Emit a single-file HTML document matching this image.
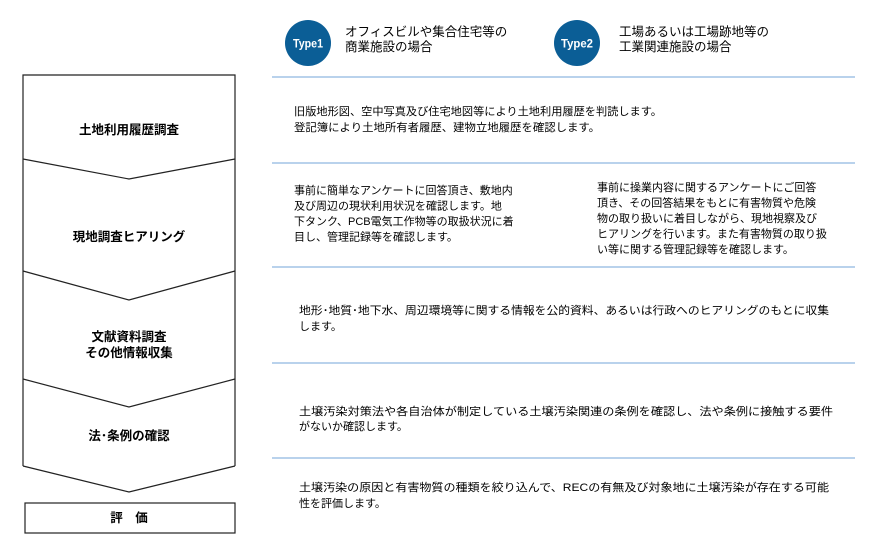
<!DOCTYPE html>
<html><head><meta charset="utf-8"><style>
html,body{margin:0;padding:0;background:#fff;}
svg{display:block;}
text{font-family:"Liberation Sans","Noto Sans CJK JP",sans-serif;fill:#000;}
.t{font-size:11px;}
.h{font-size:12.5px;font-weight:bold;}
</style></head><body>
<svg width="877" height="559" viewBox="0 0 877 559" xmlns="http://www.w3.org/2000/svg">
<g stroke="#8fb8e0" stroke-width="1.2">
<line x1="272" y1="77" x2="855" y2="77"/>
<line x1="272" y1="163" x2="855" y2="163"/>
<line x1="272" y1="267" x2="855" y2="267"/>
<line x1="272" y1="363" x2="855" y2="363"/>
<line x1="272" y1="458" x2="855" y2="458"/>
</g>
<circle cx="308" cy="43" r="23" fill="#0b5e96"/>
<text x="308" y="47.5" text-anchor="middle" textLength="30" lengthAdjust="spacingAndGlyphs" style="font-size:12px;font-weight:bold;fill:#fff">Type1</text>
<circle cx="577" cy="43" r="23" fill="#0b5e96"/>
<text x="577" y="47.5" text-anchor="middle" textLength="32" lengthAdjust="spacingAndGlyphs" style="font-size:12px;font-weight:bold;fill:#fff">Type2</text>
<text class="h" x="345" y="36" style="font-weight:normal">オフィスビルや集合住宅等の</text>
<text class="h" x="345" y="51" style="font-weight:normal">商業施設の場合</text>
<text class="h" x="619" y="36" style="font-weight:normal">工場あるいは工場跡地等の</text>
<text class="h" x="619" y="51" style="font-weight:normal">工業関連施設の場合</text>

<g fill="none" stroke="#222" stroke-width="1.2">
<polyline points="23,159 23,75 235,75 235,159"/>
<polyline points="23,159 129,179 235,159"/>
<polyline points="23,159 23,271"/><polyline points="235,159 235,271"/>
<polyline points="23,271 129,300 235,271"/>
<polyline points="23,271 23,379"/><polyline points="235,271 235,379"/>
<polyline points="23,379 129,407 235,379"/>
<polyline points="23,379 23,466"/><polyline points="235,379 235,466"/>
<polyline points="23,466 129,492 235,466"/>
<rect x="25" y="503" width="210" height="30"/>
</g>
<text class="h" x="129" y="134" text-anchor="middle">土地利用履歴調査</text>
<text class="h" x="129" y="241" text-anchor="middle">現地調査ヒアリング</text>
<text class="h" x="129" y="341" text-anchor="middle">文献資料調査</text>
<text class="h" x="129" y="357" text-anchor="middle">その他情報収集</text>
<text class="h" x="129" y="440" text-anchor="middle">法･条例の確認</text>
<text class="h" x="129" y="522" text-anchor="middle">評　価</text>

<text class="t" x="294" y="115" textLength="368" lengthAdjust="spacingAndGlyphs">旧版地形図、空中写真及び住宅地図等により土地利用履歴を判読します。</text>
<text class="t" x="294" y="131" textLength="306" lengthAdjust="spacingAndGlyphs">登記簿により土地所有者履歴、建物立地履歴を確認します。</text>

<text class="t" x="294" y="194">事前に簡単なアンケートに回答頂き、敷地内</text>
<text class="t" x="294" y="209.5">及び周辺の現状利用状況を確認します。地</text>
<text class="t" x="294" y="225">下タンク、PCB電気工作物等の取扱状況に着</text>
<text class="t" x="294" y="240.5">目し、管理記録等を確認します。</text>

<text class="t" x="597" y="191">事前に操業内容に関するアンケートにご回答</text>
<text class="t" x="597" y="206.5">頂き、その回答結果をもとに有害物質や危険</text>
<text class="t" x="597" y="222">物の取り扱いに着目しながら、現地視察及び</text>
<text class="t" x="597" y="237.5">ヒアリングを行います。また有害物質の取り扱</text>
<text class="t" x="597" y="253">い等に関する管理記録等を確認します。</text>

<text class="t" x="299" y="314" textLength="530" lengthAdjust="spacingAndGlyphs">地形･地質･地下水、周辺環境等に関する情報を公的資料、あるいは行政へのヒアリングのもとに収集</text>
<text class="t" x="299" y="330">します。</text>

<text class="t" x="299" y="415" textLength="534" lengthAdjust="spacingAndGlyphs">土壌汚染対策法や各自治体が制定している土壌汚染関連の条例を確認し、法や条例に接触する要件</text>
<text class="t" x="299" y="430">がないか確認します。</text>

<text class="t" x="299" y="491" textLength="530" lengthAdjust="spacingAndGlyphs">土壌汚染の原因と有害物質の種類を絞り込んで、RECの有無及び対象地に土壌汚染が存在する可能</text>
<text class="t" x="299" y="507">性を評価します。</text>
</svg>
</body></html>
